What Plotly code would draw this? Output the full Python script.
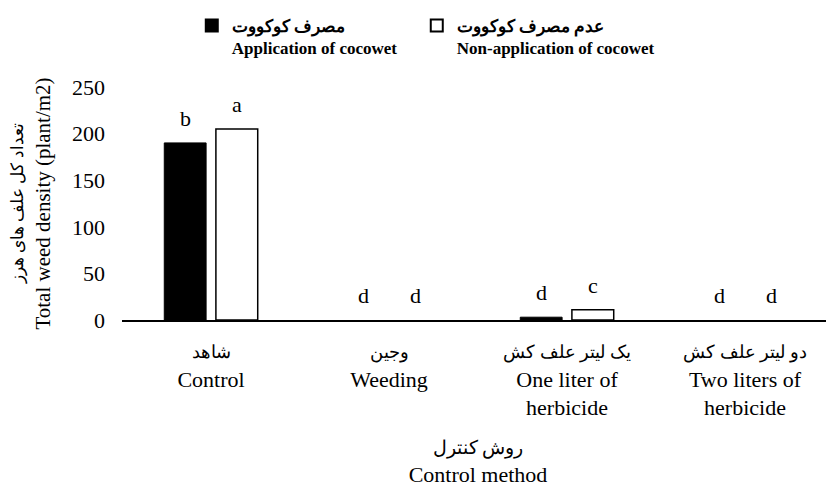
import plotly.graph_objects as go

def two_lang(fa, en, fa_size=18):
    return f'<span style="font-size:{fa_size}px">{fa}</span><br>{en}'

cat_fa = ["شاهد", "وجين", "يک ليتر علف کش", "دو ليتر علف کش"]
cat_en = ["Control", "Weeding", "One liter of<br>herbicide", "Two liters of<br>herbicide"]
categories = [two_lang(f, e) for f, e in zip(cat_fa, cat_en)]
series_names = ["<b>مصرف کوکووت</b><br><b>Application of cocowet</b>",
                "<b>عدم مصرف کوکووت</b><br><b>Non-application of cocowet</b>"]
applied = [190, 0, 3, 0]
not_applied = [205, 0, 11, 0]
letters_applied = ["b", "d", "d", "d"]
letters_not_applied = ["a", "d", "c", "d"]
y_ticks = [0, 50, 100, 150, 200, 250]

FONT = "'Times New Roman', 'Liberation Serif', serif"

fig = go.Figure()
fig.add_trace(go.Bar(x=categories, y=applied, name=series_names[0], legend="legend",
                     showlegend=True,
                     marker=dict(color="black",
                                 line=dict(color="black", width=[1 if v else 0 for v in applied]))))
fig.add_trace(go.Bar(x=categories, y=not_applied, name=series_names[1], legend="legend2",
                     showlegend=True,
                     marker=dict(color="white",
                                 line=dict(color="black", width=[1.5 if v else 0 for v in not_applied]))))

slot = 26
for vals, letters, shift in [(applied, letters_applied, -slot), (not_applied, letters_not_applied, slot)]:
    for c, v, t in zip(categories, vals, letters):
        fig.add_annotation(x=c, y=v, text=t, showarrow=False, xshift=shift,
                           yanchor="bottom", yshift=10,
                           font=dict(family=FONT, size=22, color="black"))

legend_style = dict(orientation="h", xanchor="left", y=1.34, yanchor="top", valign="top",
                    font=dict(family=FONT, size=17, color="black"), itemsizing="constant",
                    bgcolor="rgba(0,0,0,0)")

fig.update_layout(
    width=826, height=487,
    margin=dict(l=114, r=0, t=79, b=175),
    paper_bgcolor="white", plot_bgcolor="white",
    showlegend=True,
    barmode="group", bargap=0.42, bargroupgap=0.19,
    font=dict(family=FONT, size=22, color="black"),
    legend=dict(x=0.098, **legend_style),
    legend2=dict(x=0.414, **legend_style),
    xaxis=dict(showline=True, linecolor="black", linewidth=1.5, ticks="",
               showgrid=False, tickfont=dict(size=22), automargin=False,
               ticklabelstandoff=10,
               title=dict(text=two_lang("روش کنترل", "Control method", 19),
                          font=dict(size=22), standoff=19)),
    yaxis=dict(range=[0, 250], tickvals=y_ticks, showgrid=False, showline=False,
               zeroline=False, ticks="", tickfont=dict(size=22), automargin=False,
               ticklabelstandoff=16,
               title=dict(text=two_lang("تعداد کل علف های هرز", "Total weed density (plant/m2)", 17),
                          font=dict(size=21), standoff=20)),
)

fig.write_html("out.html")
